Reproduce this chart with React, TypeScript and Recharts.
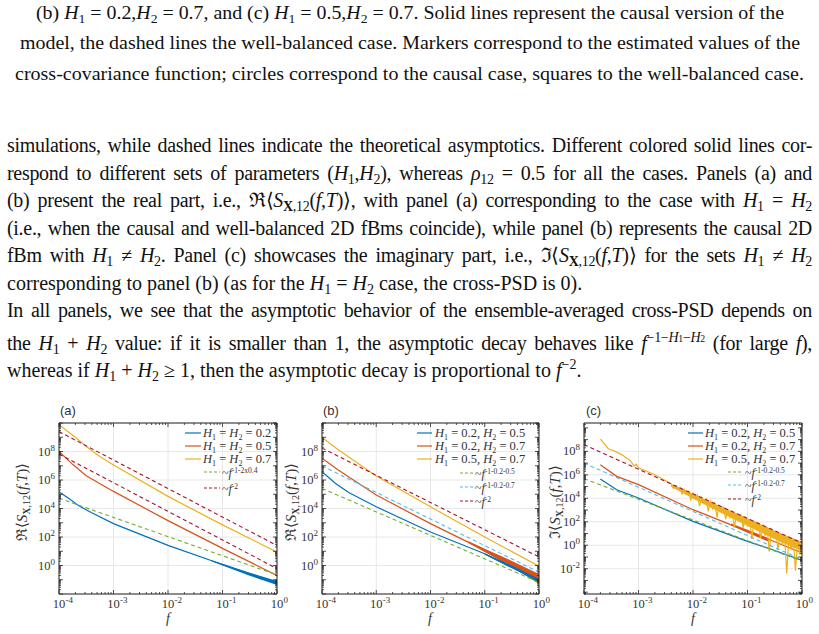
import React from "react";
import { ComposedChart, Line, Area, XAxis, YAxis, CartesianGrid } from "recharts";

// matlab default colours
const BLUE = "#0072BD";
const RED = "#D95319";
const YELLOW = "#EDB120";
const GREEN = "#77AC30";
const CYAN = "#4DBEEE";
const WINE = "#A2142F";
const AX = "#262626";
const GRID = "#e2e2e2";

// axes (values, log scale)
const xDecades = [1e-4, 1e-3, 1e-2, 1e-1, 1];
const yTicksAB = [1, 1e2, 1e4, 1e6, 1e8];
const yTicksC = [1e-2, 1, 1e2, 1e4, 1e6, 1e8];
const yDomainAB = [1e-2, 1e10];
const yDomainC = [7e-5, 2.6e10];

// panel (a): log10 f and log10 Re<S>
const aBlueF = [-4, -3.8, -3.62, -3.4, -3, -2, -1, 0];
const aBlueS = [5.18, 4.65, 4.15, 3.7, 2.94, 1.41, 0.07, -1.22];
const aRedF = [-4, -3.75, -3.5, -3, -2, -1, 0];
const aRedS = [8.0, 7.1, 6.3, 5.2, 3.15, 1.2, -0.7];
const aYellowF = [-4, -3.7, -3.5, -3.25, -3, -2, -1, 0];
const aYellowS = [9.88, 9.0, 8.35, 7.65, 7.06, 4.85, 2.85, 0.94];
const aDashF = [-4, 0];
const aGreenS = [4.72, -0.66];
const aWineHiS = [9.4, 1.4];
const aWineLoS = [7.82, -0.22];
const aBlueBandF = [-1.2, -1, -0.5, 0];
const aBlueBandLo = [0.3, 0.0, -0.72, -1.36];
const aBlueBandHi = [0.36, 0.13, -0.5, -1.08];

// panel (b)
const bBlueF = [-4, -3.75, -3.5, -3, -2, -1, 0];
const bBlueS = [6.59, 5.75, 5.1, 4.12, 2.35, 0.82, -1.06];
const bRedF = [-4, -3.7, -3, -2, -1, 0];
const bRedS = [7.53, 6.7, 4.94, 2.94, 1.06, -0.9];
const bYellowF = [-4, -3.7, -3, -2, -1, 0];
const bYellowS = [8.99, 8.12, 6.28, 4.12, 2.0, -0.05];
const bDashF = [-4, 0];
const bGreenS = [5.41, -1.18];
const bCyanS = [6.99, -0.47];
const bWineS = [8.24, 0.6];
const bRedBandF = [-1.3, -1, -0.5, 0];
const bRedBandLo = [1.58, 0.95, -0.1, -1.29];
const bRedBandHi = [1.7, 1.17, 0.32, -0.59];
const bBlueBandF = [-1, -0.5, 0];
const bBlueBandLo = [0.76, -0.2, -1.16];
const bBlueBandHi = [0.86, 0.0, -0.92];

// panel (c): log10 f and log10 Im<S>
const cBlueF = [-3.7, -3.4, -3, -2, -1, -0.5, 0];
const cBlueS = [5.64, 4.73, 4.02, 2.03, 0.33, -0.45, -1.3];
const cRedF = [-3.7, -3.4, -3, -2, -1, -0.5, 0];
const cRedS = [6.86, 5.87, 5.16, 3.03, 1.18, 0.3, -0.65];
const cYellowF = [
  -3.7, -3.55, -3.45, -3.3, -3.15, -3.08, -3.04, -3, -2.7, -2.44,
  -2.4, -2.36, -2.32, -2.28, -2.24, -2.2, -2.16, -2.12, -2.08, -2.04,
  -2.0, -1.96, -1.92, -1.88, -1.84, -1.8, -1.76, -1.72, -1.68, -1.64,
  -1.6, -1.56, -1.52, -1.48, -1.44, -1.4, -1.36, -1.32, -1.28, -1.24,
  -1.2, -1.16, -1.12, -1.08, -1.04, -1.0, -0.96, -0.92, -0.88, -0.84,
  -0.8, -0.76, -0.72, -0.68, -0.64, -0.6, -0.56, -0.52, -0.48, -0.44,
  -0.4, -0.36, -0.32, -0.28, -0.24, -0.2, -0.16, -0.12, -0.08, -0.04, 0,
];
const cYellowS = [
  9.05, 8.2, 8.05, 7.7, 7.2, 6.75, 6.9, 6.6, 6.0, 5.35,
  5.25, 4.84, 5.08, 4.77, 4.9, 4.35, 4.76, 4.33, 4.58, 3.86,
  4.4, 3.95, 4.26, 3.33, 4.05, 3.56, 3.92, 2.89, 3.74, 3.12,
  3.58, 2.36, 3.42, 2.84, 3.22, 2.22, 3.08, 2.35, 2.92, 1.49,
  2.72, 2.12, 2.58, 1.45, 2.42, 1.58, 2.22, 0.52, 2.08, 1.35,
  1.9, 0.58, 1.76, 0.81, 1.55, -0.55, 1.42, 0.58, 1.22, -0.39,
  1.06, 0.04, 0.9, -2.42, 0.72, -0.39, 0.55, -2.16, 0.4, -0.83, 0.22,
];
const cYellowBandF = [-2.4, -2.0, -1.6, -1.2, -0.8, -0.4, 0];
const cYellowBandLo = [4.98, 3.98, 3.02, 2.1, 1.2, 0.3, -0.5];
const cYellowBandHi = [5.22, 4.38, 3.54, 2.71, 1.87, 1.03, 0.3];
const cDashF = [-4, 0];
const cGreenS = [5.67, -1.37];
const cCyanS = [7.0, -1.23];
const cWineS = [8.57, 0.19];
const cRedBandF = [-1.3, -1, -0.6];
const cRedBandLo = [1.68, 1.06, 0.28];
const cRedBandHi = [1.86, 1.32, 0.58];

// legend texts
const aLegendH = ["0.2", "0.5", "0.7"];
const bcLegendH = [["0.2", "0.5"], ["0.2", "0.7"], ["0.5", "0.7"]];
const aDashSup = ["-1-2x0.4", "-2"];
const bcDashSup = ["-1-0.2-0.5", "-1-0.2-0.7", "-2"];

type Pt = { f: number; v: number };
const pts = (lf: number[], ls: number[]): Pt[] =>
  lf.map((x, i) => ({ f: 10 ** x, v: 10 ** ls[i] }));
const band = (lf: number[], lo: number[], hi: number[]) =>
  lf.map((x, i) => ({ f: 10 ** x, r: [10 ** lo[i], 10 ** hi[i]] }));

// 1..9 x 10^k ticks inside a domain
const logTicks = (lo: number, hi: number) => {
  const out: number[] = [];
  for (let e = Math.floor(Math.log10(lo)); e <= Math.ceil(Math.log10(hi)); e++)
    for (let m = 1; m < 10; m++) {
      const v = m * 10 ** e;
      if (v >= lo * 0.999 && v <= hi * 1.001) out.push(v);
    }
  return out;
};
const isMajor = (v: number) =>
  Math.abs(Math.log10(v) - Math.round(Math.log10(v))) < 1e-6;
const expOf = (v: number) => String(Math.round(Math.log10(v)));

const Mark = (p: any) => {
  const len = isMajor(p.payload.value) ? 4 : 2;
  const d: Record<string, number[]> = {
    bottom: [0, -len],
    top: [0, len],
    left: [len, 0],
    right: [-len, 0],
  };
  const [dx, dy] = d[p.side];
  return <line x1={p.x} y1={p.y} x2={p.x + dx} y2={p.y + dy} stroke={AX} strokeWidth={0.8} />;
};

const XLabel = (p: any) => (
  <g fill="#333" fontFamily='"Liberation Serif", serif'>
    <text x={p.x - 6.2} y={p.y + 14} fontSize={12.5}>10</text>
    <text x={p.x + 6.4} y={p.y + 9} fontSize={9}>{expOf(p.payload.value)}</text>
  </g>
);

const YLabel = (p: any) => (
  <text x={p.x - 4} y={p.y + 4} textAnchor="end" fill="#333" fontFamily='"Liberation Serif", serif'>
    <tspan fontSize={12.5}>10</tspan>
    <tspan fontSize={9} dy={-5}>{expOf(p.payload.value)}</tspan>
  </text>
);

type Series = { data: any[]; color: string };
type PanelCfg = {
  left: number;
  width: number;
  margin: { top: number; right: number; bottom: number; left: number };
  yWidth: number;
  yDomain: number[];
  yTicks: number[];
  solids: Series[];
  dashes: Series[];
  bands: Series[];
};

const panels: PanelCfg[] = [
  {
    left: 0,
    width: 295,
    margin: { top: 23, right: 18, bottom: 0, left: 14 },
    yWidth: 45,
    yDomain: yDomainAB,
    yTicks: yTicksAB,
    bands: [{ data: band(aBlueBandF, aBlueBandLo, aBlueBandHi), color: BLUE }],
    solids: [
      { data: pts(aBlueF, aBlueS), color: BLUE },
      { data: pts(aRedF, aRedS), color: RED },
      { data: pts(aYellowF, aYellowS), color: YELLOW },
    ],
    dashes: [
      { data: pts(aDashF, aGreenS), color: GREEN },
      { data: pts(aDashF, aWineHiS), color: WINE },
      { data: pts(aDashF, aWineLoS), color: WINE },
    ],
  },
  {
    left: 270,
    width: 285,
    margin: { top: 23, right: 16, bottom: 0, left: 7 },
    yWidth: 45,
    yDomain: yDomainAB,
    yTicks: yTicksAB,
    bands: [
      { data: band(bRedBandF, bRedBandLo, bRedBandHi), color: RED },
      { data: band(bBlueBandF, bBlueBandLo, bBlueBandHi), color: BLUE },
    ],
    solids: [
      { data: pts(bBlueF, bBlueS), color: BLUE },
      { data: pts(bRedF, bRedS), color: RED },
      { data: pts(bYellowF, bYellowS), color: YELLOW },
    ],
    dashes: [
      { data: pts(bDashF, bGreenS), color: GREEN },
      { data: pts(bDashF, bCyanS), color: CYAN },
      { data: pts(bDashF, bWineS), color: WINE },
    ],
  },
  {
    left: 540,
    width: 279,
    margin: { top: 23, right: 17, bottom: 0, left: 0 },
    yWidth: 44,
    yDomain: yDomainC,
    yTicks: yTicksC,
    bands: [
      { data: band(cRedBandF, cRedBandLo, cRedBandHi), color: RED },
      { data: band(cYellowBandF, cYellowBandLo, cYellowBandHi), color: YELLOW },
    ],
    solids: [
      { data: pts(cBlueF, cBlueS), color: BLUE },
      { data: pts(cRedF, cRedS), color: RED },
      { data: pts(cYellowF, cYellowS), color: YELLOW },
    ],
    dashes: [
      { data: pts(cDashF, cGreenS), color: GREEN },
      { data: pts(cDashF, cCyanS), color: CYAN },
      { data: pts(cDashF, cWineS), color: WINE },
    ],
  },
];

const xMinor = logTicks(1e-4, 1);

function Panel({ cfg }: { cfg: PanelCfg }) {
  const yMinor = logTicks(cfg.yDomain[0], cfg.yDomain[1]);
  const common = { type: "number" as const, scale: "log" as const, allowDataOverflow: true, interval: 0 as const, tickSize: 0, tickMargin: 0 };
  return (
    <div style={{ position: "absolute", left: cfg.left, top: 400 }}>
      <ComposedChart width={cfg.width} height={234} margin={cfg.margin}>
        <CartesianGrid stroke={GRID} strokeWidth={0.8} />
        <XAxis xAxisId={0} dataKey="f" domain={[1e-4, 1]} ticks={xDecades} height={40} {...common}
          tickLine={false} axisLine={{ stroke: AX }} tick={(p: any) => <XLabel {...p} />} />
        <XAxis xAxisId="xb" dataKey="f" domain={[1e-4, 1]} ticks={xMinor} orientation="bottom" mirror {...common}
          tickLine={false} axisLine={false} tick={(p: any) => <Mark {...p} side="bottom" />} />
        <XAxis xAxisId="xt" dataKey="f" domain={[1e-4, 1]} ticks={xMinor} orientation="top" mirror {...common}
          tickLine={false} axisLine={{ stroke: AX }} tick={(p: any) => <Mark {...p} side="top" />} />
        <YAxis yAxisId={0} domain={cfg.yDomain} ticks={cfg.yTicks} width={cfg.yWidth} {...common}
          tickLine={false} axisLine={{ stroke: AX }} tick={(p: any) => <YLabel {...p} />} />
        <YAxis yAxisId="yl" domain={cfg.yDomain} ticks={yMinor} orientation="left" mirror {...common}
          tickLine={false} axisLine={false} tick={(p: any) => <Mark {...p} side="left" />} />
        <YAxis yAxisId="yr" domain={cfg.yDomain} ticks={yMinor} orientation="right" mirror {...common}
          tickLine={false} axisLine={{ stroke: AX }} tick={(p: any) => <Mark {...p} side="right" />} />
        {cfg.bands.map((s, i) => (
          <Area key={"b" + i} data={s.data} dataKey="r" type="linear" stroke="none" fill={s.color}
            fillOpacity={1} isAnimationActive={false} />
        ))}
        {cfg.solids.map((s, i) => (
          <Line key={"s" + i} data={s.data} dataKey="v" type="linear" stroke={s.color} strokeWidth={1.2}
            dot={false} isAnimationActive={false} />
        ))}
        {cfg.dashes.map((s, i) => (
          <Line key={"d" + i} data={s.data} dataKey="v" type="linear" stroke={s.color} strokeWidth={1.1}
            strokeDasharray="4 3" dot={false} isAnimationActive={false} />
        ))}
      </ComposedChart>
    </div>
  );
}

// ---------- overlay texts ----------
const SH = ({ n, size = 13, shift = -4 }: { n: string; size?: number; shift?: number }) => (
  <>
    <tspan fontStyle="italic">H</tspan>
    <tspan fontSize={size} baselineShift={shift}>{n}</tspan>
  </>
);

const YTitle = ({ x, y, sym }: { x: number; y: number; sym: string }) => (
  <text transform={`translate(${x},${y}) rotate(-90)`} textAnchor="middle" fontSize={15} fill="#333">
    {sym}⟨<tspan fontStyle="italic">S</tspan>
    <tspan fontSize={10} baselineShift={-3}>
      <tspan fontWeight="bold">X</tspan>,12
    </tspan>
    (<tspan fontStyle="italic">f</tspan>,<tspan fontStyle="italic">T</tspan>)⟩
  </text>
);

type Leg = {
  rows: number[];
  sample: number[];
  textX: number;
  dRows: number[];
  dSample: number[];
  dTextX: number;
};
const legA: Leg = { rows: [433, 446, 459], sample: [185, 201], textX: 203, dRows: [472, 488], dSample: [204, 220], dTextX: 222 };
const legB: Leg = { rows: [433, 446, 459], sample: [417, 432], textX: 435, dRows: [473, 487, 501], dSample: [460, 473], dTextX: 475 };
const legC: Leg = { rows: [433, 446, 459], sample: [688, 703], textX: 705, dRows: [472, 485, 499], dSample: [728, 743], dTextX: 745 };
const solidColors = [BLUE, RED, YELLOW];

function Legend({ leg, labels, dashColors, sups }: { leg: Leg; labels: React.ReactNode[]; dashColors: string[]; sups: string[] }) {
  return (
    <g>
      {leg.rows.map((y, i) => (
        <g key={"r" + i}>
          <line x1={leg.sample[0]} x2={leg.sample[1]} y1={y} y2={y} stroke={solidColors[i]} strokeWidth={1.2} />
          <text x={leg.textX} y={y + 4} fontSize={12.5} fill="#333">{labels[i]}</text>
        </g>
      ))}
      {leg.dRows.map((y, i) => (
        <g key={"d" + i}>
          <line x1={leg.dSample[0]} x2={leg.dSample[1]} y1={y} y2={y} stroke={dashColors[i]} strokeWidth={1.1} strokeDasharray="3 2" />
          <text x={leg.dTextX} y={y + 5} fontSize={12} fill="#333">
            ~<tspan fontStyle="italic">f</tspan>
            <tspan fontSize={7.5} baselineShift={4}>{sups[i]}</tspan>
          </text>
        </g>
      ))}
    </g>
  );
}

function Overlay() {
  const aLabels = aLegendH.map((h) => (
    <>
      <SH n="1" size={8} shift={-2.5} /> = <SH n="2" size={8} shift={-2.5} /> = {h}
    </>
  ));
  const bcLabels = bcLegendH.map(([h1, h2]) => (
    <>
      <SH n="1" size={8} shift={-2.5} /> = {h1}, <SH n="2" size={8} shift={-2.5} /> = {h2}
    </>
  ));
  return (
    <svg width={819} height={634} style={{ position: "absolute", left: 0, top: 0, pointerEvents: "none" }}
      fontFamily='"Liberation Serif", serif'>
      <g fontFamily='"Liberation Sans", Arial, sans-serif' fontSize={13} fill="#333">
        <text x={60} y={415}>(a)</text>
        <text x={323} y={415}>(b)</text>
        <text x={586} y={415}>(c)</text>
      </g>
      <YTitle x={27} y={502} sym="ℜ" />
      <YTitle x={296} y={502} sym="ℜ" />
      <YTitle x={560} y={502} sym="ℑ" />
      <g fontSize={14} fill="#333" fontStyle="italic">
        <text x={168} y={623} textAnchor="middle">f</text>
        <text x={430} y={623} textAnchor="middle">f</text>
        <text x={693} y={623} textAnchor="middle">f</text>
      </g>
      <Legend leg={legA} labels={aLabels} dashColors={[GREEN, WINE]} sups={aDashSup} />
      <Legend leg={legB} labels={bcLabels} dashColors={[GREEN, CYAN, WINE]} sups={bcDashSup} />
      <Legend leg={legC} labels={bcLabels} dashColors={[GREEN, CYAN, WINE]} sups={bcDashSup} />
    </svg>
  );
}

// ---------- page text ----------
const Sub = ({ children }: { children: React.ReactNode }) => (
  <span style={{ fontSize: "0.7em", verticalAlign: "-0.3em" }}>{children}</span>
);
const Sup = ({ children }: { children: React.ReactNode }) => (
  <span style={{ fontSize: "0.7em", verticalAlign: "0.55em" }}>{children}</span>
);
const H = ({ n }: { n: string }) => (
  <>
    <i>H</i>
    <Sub>{n}</Sub>
  </>
);
const SX = () => (
  <>
    <i>S</i>
    <Sub>
      <b>X</b>,12
    </Sub>
    (<i>f</i>,<i>T</i>)⟩
  </>
);

const bodyLines: React.ReactNode[] = [
  <>simulations, while dashed lines indicate the theoretical asymptotics. Different colored solid lines cor-</>,
  <>respond to different sets of parameters (<H n="1" />,<H n="2" />), whereas <i>ρ</i><Sub>12</Sub> = 0.5 for all the cases. Panels (a) and</>,
  <>(b) present the real part, i.e., ℜ⟨<SX />, with panel (a) corresponding to the case with <H n="1" /> = <H n="2" /></>,
  <>(i.e., when the causal and well-balanced 2D fBms coincide), while panel (b) represents the causal 2D</>,
  <>fBm with <H n="1" /> ≠ <H n="2" />. Panel (c) showcases the imaginary part, i.e., ℑ⟨<SX /> for the sets <H n="1" /> ≠ <H n="2" /></>,
  <>corresponding to panel (b) (as for the <H n="1" /> = <H n="2" /> case, the cross-PSD is 0).</>,
  <>In all panels, we see that the asymptotic behavior of the ensemble-averaged cross-PSD depends on</>,
  <>the <H n="1" /> + <H n="2" /> value: if it is smaller than 1, the asymptotic decay behaves like <i>f</i><Sup>−1−<i>H</i><span style={{ fontSize: "0.7em" }}>1</span>−<i>H</i><span style={{ fontSize: "0.7em" }}>2</span></Sup> (for large <i>f</i>),</>,
  <>whereas if <H n="1" /> + <H n="2" /> ≥ 1, then the asymptotic decay is proportional to <i>f</i><Sup>−2</Sup>.</>,
];
const lastLines = [5, 8];

export default function App() {
  return (
    <div style={{ position: "absolute", left: 0, top: 0, width: 819, height: 634, background: "#fff", overflow: "hidden",
      fontFamily: '"Liberation Serif", serif', color: "#111" }}>
      <svg width={819} height={90} style={{ position: "absolute", left: 0, top: 0 }} fontFamily='"Liberation Serif", serif' fontSize={19} fill="#111">
        <text x={36} y={19} textLength={748} lengthAdjust="spacingAndGlyphs">
          (b) <SH n="1" /> = 0.2,<SH n="2" /> = 0.7, and (c) <SH n="1" /> = 0.5,<SH n="2" /> = 0.7. Solid lines represent the causal version of the
        </text>
        <text x={20} y={49} textLength={780} lengthAdjust="spacingAndGlyphs">
          model, the dashed lines the well-balanced case. Markers correspond to the estimated values of the
        </text>
        <text x={15} y={80} textLength={789} lengthAdjust="spacingAndGlyphs">
          cross-covariance function; circles correspond to the causal case, squares to the well-balanced case.
        </text>
      </svg>
      {bodyLines.map((l, i) => {
        const last = lastLines.includes(i);
        return (
          <div key={i} style={{ position: "absolute", left: 7, top: 152 + 27.5 * i - 16.75, width: 805, fontSize: 20,
            lineHeight: "20px", textAlign: last ? "left" : "justify", textAlignLast: last ? "left" : "justify",
            letterSpacing: last ? 0 : "-0.3px", wordSpacing: last ? 0 : "-1.5px" } as React.CSSProperties}>
            {l}
          </div>
        );
      })}
      {panels.map((p, i) => (
        <Panel key={i} cfg={p} />
      ))}
      <Overlay />
    </div>
  );
}
